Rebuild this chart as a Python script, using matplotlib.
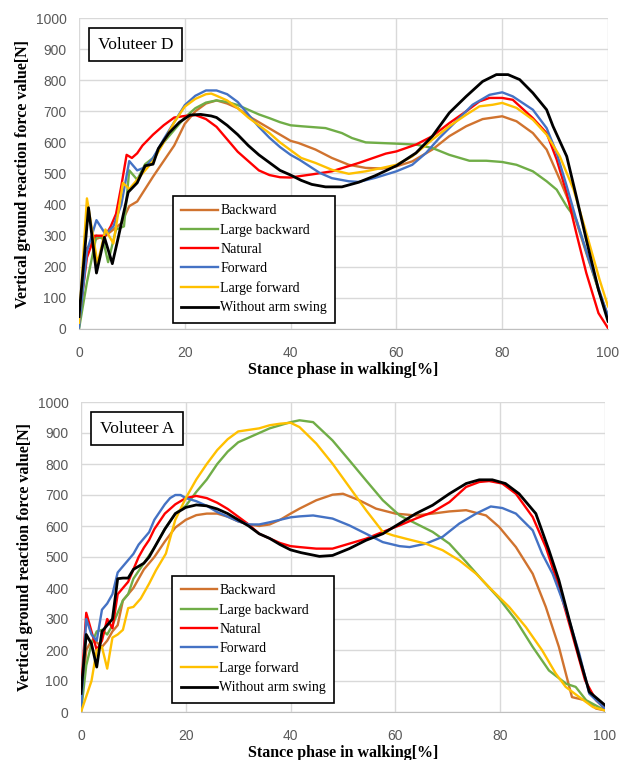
import matplotlib.pyplot as plt

labels = ["Backward", "Large backward", "Natural", "Forward", "Large forward", "Without arm swing"]
colors = ["#D0732F", "#70AD47", "#FF0000", "#4472C4", "#FFC000", "#000000"]

# ---- Voluteer D (top) ----
d_back_x = [0, 1.5, 3.3, 5, 6.5, 8, 9.5, 11, 12.5, 14, 16, 18, 20, 22, 24, 26, 28, 30, 32, 34, 36, 38, 40,
            41.5, 44.7, 47.8, 51, 54.2, 57.3, 60, 63, 66.8, 70, 73.2, 76.3, 80, 82.7, 85.8, 88.4, 90.9, 93.5, 95.9, 98.4, 100]
d_back_y = [10, 260, 290, 300, 320, 340, 395, 410, 450, 490, 540, 590, 660, 700, 725, 735, 725, 710, 685, 665, 645, 625, 605,
            598, 577, 550, 528, 518, 516, 523, 539, 577, 620, 652, 675, 684, 668, 630, 577, 480, 373, 244, 116, 41]

d_lback_x = [0, 1.5, 3.3, 4.5, 5.5, 7, 8.5, 9.5, 11, 12.5, 14, 16, 18, 20, 22, 24, 26, 28, 30, 32, 34, 36, 38, 40,
             42, 46.6, 49.7, 51.6, 54.2, 60, 63.7, 66.8, 70, 73.8, 77, 80, 82.7, 85.8, 88.4, 90.3, 92.2, 94, 96.6, 98.4, 100]
d_lback_y = [0, 150, 300, 290, 215, 320, 330, 510, 480, 530, 550, 600, 640, 680, 710, 728, 735, 730, 720, 705, 690, 678, 665, 655,
             652, 646, 630, 614, 600, 596, 593, 582, 560, 541, 541, 537, 528, 507, 475, 448, 394, 352, 212, 116, 41]

d_nat_x = [0, 1.5, 3, 4, 5, 6, 7, 8, 9, 10, 11, 12, 14, 16, 18, 20, 22, 24, 26, 28, 30, 32, 34, 36, 38, 40,
           41.5, 44, 47.8, 52.9, 58, 60, 63.7, 66.8, 70, 73.2, 75.7, 77.6, 80, 82, 85.8, 88.4, 90.3, 92.2, 94, 95.9, 98.2, 100]
d_nat_y = [30, 230, 300, 300, 300, 330, 370, 460, 560, 550, 565, 590, 625, 655, 680, 685, 688, 675, 650, 610, 570, 540, 510, 495, 488, 487,
           491, 497, 507, 534, 564, 571, 593, 620, 662, 700, 732, 743, 743, 737, 678, 630, 545, 437, 309, 180, 51, 3]

d_fwd_x = [0, 1.5, 3.3, 5, 6.5, 8, 9.5, 11, 12.5, 14, 16, 18, 20, 22, 24, 26, 28, 30, 32, 34, 36, 38, 40,
           41.7, 45.5, 47.8, 51, 52.9, 56, 60, 63, 65.6, 68.1, 71.3, 74.4, 77.6, 80, 82, 85.8, 88.4, 90.3, 92.2, 94, 96.6, 100]
d_fwd_y = [5, 250, 350, 305, 330, 400, 540, 510, 520, 550, 610, 665, 720, 750, 767, 767, 755, 730, 690, 650, 615, 585, 560,
           544, 502, 485, 475, 473, 486, 507, 528, 566, 614, 668, 721, 753, 761, 748, 705, 646, 566, 459, 352, 212, 41]

d_lfwd_x = [0, 1.5, 3.5, 5, 6.5, 8.3, 9.5, 11, 12.5, 14, 16, 18, 20, 22, 24, 25, 26, 28, 30, 32, 34, 36, 38, 40,
            42, 44.7, 47.8, 51, 54.2, 57.3, 60, 63, 66.8, 70, 73.2, 75.7, 78.2, 80, 82.7, 85.8, 88.4, 90.9, 93.5, 95.9, 98.4, 100]
d_lfwd_y = [20, 420, 210, 320, 275, 470, 450, 480, 510, 540, 600, 665, 715, 740, 755, 757, 750, 735, 710, 680, 655, 630, 600, 575,
            550, 534, 512, 499, 507, 518, 528, 555, 609, 652, 689, 716, 721, 727, 711, 673, 625, 555, 448, 309, 159, 73]

d_none_x = [0, 1.8, 3.3, 4.8, 6.3, 7.5, 9.3, 11, 12.5, 14, 15, 17, 19, 21, 23, 25, 26, 28, 30, 32, 34, 36, 38, 40, 42, 44,
            46.6, 49.7, 52.9, 56, 60, 63.7, 66.8, 70, 73.2, 76.3, 78.9, 81.1, 83.3, 85.8, 88.4, 89.6, 92.2, 94, 95.9, 98.2, 100]
d_none_y = [40, 390, 180, 295, 210, 300, 440, 470, 525, 530, 580, 630, 665, 688, 690, 685, 680, 655, 625, 590, 560, 535, 510, 495, 478, 465,
            457, 457, 472, 493, 525, 566, 620, 695, 748, 796, 818, 818, 802, 759, 705, 652, 555, 427, 287, 126, 25]

# ---- Voluteer A (bottom) ----
a_back_x = [0, 1, 2, 3, 4, 5, 6, 7, 8, 9, 10, 11, 12, 13, 14, 16, 18, 20, 22, 24, 26, 28, 30, 32, 34, 36, 38, 40,
            41.7, 44.9, 48, 50, 53.1, 56.3, 60, 63.9, 67.1, 70.3, 73.5, 77.3, 79.8, 83, 86.2, 88.7, 91.2, 93.7, 96.2, 98.3, 100]
a_back_y = [10, 200, 230, 225, 210, 230, 260, 280, 360, 380, 400, 430, 460, 480, 500, 550, 595, 620, 635, 640, 640, 630, 615, 605, 600, 605, 620, 640,
            656, 683, 701, 704, 683, 656, 640, 634, 640, 647, 651, 634, 597, 532, 446, 339, 210, 48, 38, 11, 5]

a_lback_x = [0, 1, 2, 3, 4, 5, 6, 7, 8, 9, 10, 12, 14, 16, 18, 20, 22, 24, 26, 28, 30, 32, 34, 36, 38, 40,
             41.7, 44.3, 48, 51.2, 54.4, 57.6, 60.8, 63.9, 67.1, 70.3, 73.5, 76.6, 79.8, 83, 86.2, 89.3, 92.6, 94.4, 96.4, 100]
a_lback_y = [0, 150, 220, 260, 265, 250, 280, 320, 360, 380, 430, 480, 530, 590, 640, 665, 710, 750, 800, 840, 870, 885, 900, 915, 925, 935,
             941, 935, 876, 812, 747, 683, 634, 608, 581, 543, 484, 425, 366, 296, 210, 134, 91, 81, 38, 5]

a_nat_x = [0, 1, 2, 3, 4, 5, 6, 7, 8, 9, 10, 11, 12, 13, 14, 16, 18, 20, 22, 24, 26, 28, 30, 32, 34, 36, 38, 40,
           41.7, 44.9, 48, 51.2, 54.4, 57.6, 60.8, 63.9, 67.1, 70.3, 73.5, 76, 77.9, 80.4, 83, 86.2, 88.7, 91.2, 93.7, 96.2, 98.3, 100]
a_nat_y = [60, 320, 260, 200, 230, 300, 270, 380, 400, 420, 460, 500, 530, 555, 590, 640, 670, 690, 697, 690, 675, 655, 630, 605, 575, 560, 545, 535,
           532, 527, 527, 543, 559, 581, 602, 624, 645, 677, 726, 742, 745, 737, 704, 629, 532, 403, 253, 102, 38, 11]

a_fwd_x = [0, 1, 2, 3, 4, 5, 6, 7, 8, 9, 10, 11, 12, 13, 14, 16, 17, 18, 19, 20, 22, 24, 26, 28, 30, 32, 34, 36, 38, 40,
           41.7, 44.3, 48, 51.2, 54.4, 57.6, 60.8, 62.7, 65.8, 69, 72.2, 75.4, 78.2, 80.4, 83, 86.2, 88, 90, 92.6, 95.1, 97, 100]
a_fwd_y = [0, 300, 250, 230, 330, 350, 380, 450, 470, 490, 510, 540, 560, 580, 620, 670, 690, 700, 700, 690, 680, 665, 645, 630, 615, 605, 605, 612, 620, 628,
           631, 634, 624, 602, 575, 548, 535, 532, 543, 565, 608, 640, 663, 658, 640, 586, 511, 446, 328, 188, 59, 11]

a_lfwd_x = [0, 1, 2, 3, 4, 5, 6, 7, 8, 9, 10, 11.4, 13, 14.3, 16.2, 17, 18, 20, 22, 24, 26, 28, 30, 32, 34, 36, 38, 40,
            41.7, 44.9, 48, 51.2, 54.4, 57.6, 59.5, 62, 65.8, 69, 72.2, 75.4, 78.5, 81.7, 84.9, 88, 90.6, 92.5, 95.1, 97.7, 100]
a_lfwd_y = [0, 50, 100, 200, 210, 140, 240, 250, 265, 335, 339, 366, 414, 457, 511, 560, 620, 690, 750, 800, 845, 880, 905, 910, 915, 925, 930, 933,
            919, 866, 801, 726, 651, 581, 570, 559, 543, 522, 489, 446, 392, 339, 274, 199, 124, 81, 48, 16, 5]

a_none_x = [0, 1, 2, 3, 4, 5, 6, 7, 8, 9, 10, 11, 12, 13, 14, 16, 18, 20, 22, 24, 26, 28, 30, 32, 34, 36, 38, 40, 42,
            45.5, 48, 51.2, 54.4, 57.6, 60.8, 63.9, 67.1, 70.3, 73.5, 76, 78.5, 81, 83.6, 86.8, 89.3, 91.2, 93.2, 95.1, 97, 100]
a_none_y = [60, 250, 220, 145, 260, 280, 300, 430, 432, 432, 460, 470, 480, 500, 530, 590, 640, 660, 668, 665, 655, 640, 620, 600, 575, 560, 540, 523, 514,
            502, 505, 527, 554, 575, 608, 640, 667, 704, 737, 749, 749, 737, 704, 640, 522, 425, 296, 177, 65, 22]

top_data = [(d_back_x, d_back_y), (d_lback_x, d_lback_y), (d_nat_x, d_nat_y),
            (d_fwd_x, d_fwd_y), (d_lfwd_x, d_lfwd_y), (d_none_x, d_none_y)]
bot_data = [(a_back_x, a_back_y), (a_lback_x, a_lback_y), (a_nat_x, a_nat_y),
            (a_fwd_x, a_fwd_y), (a_lfwd_x, a_lfwd_y), (a_none_x, a_none_y)]

fig = plt.figure(figsize=(6.24, 7.6), dpi=100)
ax1 = fig.add_axes([79/624, 1 - 329/760, (608 - 79)/624, (329 - 18)/760])
ax2 = fig.add_axes([81/624, 1 - 712/760, (605 - 81)/624, (712 - 402)/760])

serif = "Liberation Serif"


def draw(ax, data, title, leg_box):
    for (x, y), lab, c in zip(data, labels, colors):
        lw = 2.0 if c == "#000000" else 1.7
        ax.plot(x, y, color=c, lw=lw, label=lab)
    ax.set_xlim(0, 100)
    ax.set_ylim(0, 1000)
    ax.set_xticks(range(0, 101, 20))
    ax.set_yticks(range(0, 1001, 100))
    ax.grid(True, color="#d9d9d9", lw=1.0)
    ax.set_axisbelow(True)
    for s in ["top", "right", "left"]:
        ax.spines[s].set_visible(False)
    ax.spines["bottom"].set_color("#bfbfbf")
    ax.tick_params(length=0, labelsize=10, labelcolor="#595959")
    ax.tick_params(axis="x", pad=12)
    ax.tick_params(axis="y", pad=9)
    for t in ax.get_xticklabels() + ax.get_yticklabels():
        t.set_fontfamily("Liberation Sans")
    ax.set_xlabel("Stance phase in walking[%]", fontfamily=serif, fontweight="bold",
                  fontsize=11.5, labelpad=2)
    ax.set_ylabel("Vertical ground reaction force value[N]", fontfamily=serif,
                  fontweight="bold", fontsize=11.5, labelpad=3)
    ax.text(0.036, 0.94, title, transform=ax.transAxes, fontfamily=serif, fontsize=12.5,
            va="top", ha="left",
            bbox=dict(boxstyle="square,pad=0.5", fc="white", ec="black", lw=1.2))
    leg = ax.legend(loc="lower left", bbox_to_anchor=leg_box, fancybox=False,
                    framealpha=1, edgecolor="black", prop={"family": serif, "size": 10},
                    handlelength=2.6, handletextpad=0.2, labelspacing=0.45,
                    borderpad=0.6, borderaxespad=0)
    leg.get_frame().set_linewidth(1.2)


draw(ax1, top_data, "Voluteer D", (0.178, 0.02))
draw(ax2, bot_data, "Voluteer A", (0.174, 0.03))

fig.savefig("out.png", dpi=100)
